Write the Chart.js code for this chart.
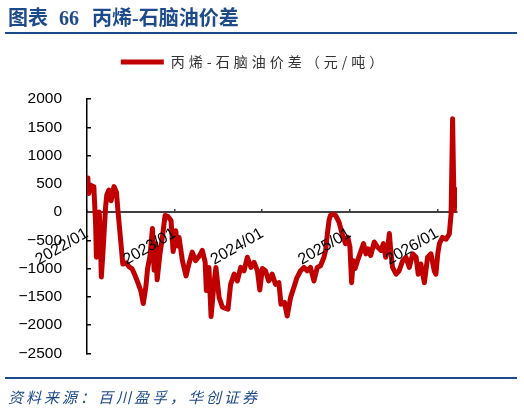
<!DOCTYPE html>
<html>
<head>
<meta charset="utf-8">
<script src="https://cdn.jsdelivr.net/npm/chart.js@4.4.1/dist/chart.umd.min.js"></script>
<style>
    html, body { margin: 0; padding: 0; background: #fff; }
    #page { position: relative; width: 524px; height: 412px; overflow: hidden; }
    #chart-box { position: absolute; left: 0; top: 0; width: 524px; height: 412px; }
    #title { position: absolute; left: 8px; top: 2px; font: bold 20px "Liberation Serif", "Noto Sans CJK SC", serif; color: #1d4a8a; white-space: nowrap; }
    #title .num { margin: 0 13px 0 11px; }
    .rule { position: absolute; left: 5px; width: 512px; height: 2px; background: #1d4a8a; }
    #source { position: absolute; left: 8px; top: 386px; font: italic 15px "Noto Sans CJK SC", sans-serif; color: #1d4a8a; letter-spacing: 3px; white-space: nowrap; }
</style>
</head>
<body>
<div id="page">
    <div id="chart-box"><canvas id="spread-chart" width="524" height="412"></canvas></div>
    <div id="title">图表<span class="num">66</span>丙烯-石脑油价差</div>
    <div class="rule" style="top: 32px;"></div>
    <div class="rule" style="top: 377px;"></div>
    <div id="source">资料来源：百川盈孚，华创证券</div>
</div>
<script>
'use strict';

const seriesName = '丙烯-石脑油价差（元/吨）';
const xTickLabels = ['2022/01', '2023/01', '2024/01', '2025/01', '2026/01'];
const yMin = -2500;
const yMax = 2000;
const yStep = 500;

const dates = [
    '2022-01-01', '2022-01-05', '2022-01-09', '2022-01-15', '2022-01-21', '2022-01-30',
    '2022-02-06', '2022-02-09', '2022-02-14', '2022-02-20', '2022-02-24', '2022-02-28',
    '2022-03-07', '2022-03-18', '2022-03-23', '2022-04-01', '2022-04-10', '2022-04-22',
    '2022-05-02', '2022-05-09', '2022-05-20', '2022-05-29', '2022-06-12', '2022-06-24',
    '2022-07-06', '2022-07-19', '2022-07-31', '2022-08-13', '2022-08-23', '2022-09-03',
    '2022-09-10', '2022-09-20', '2022-09-30', '2022-10-07', '2022-10-14', '2022-10-20',
    '2022-11-01', '2022-11-11', '2022-11-22', '2022-12-04', '2022-12-17', '2022-12-26',
    '2023-01-06', '2023-01-13', '2023-01-20', '2023-01-27', '2023-02-03', '2023-02-17',
    '2023-02-28', '2023-03-14', '2023-03-28', '2023-04-12', '2023-04-25', '2023-05-07',
    '2023-05-12', '2023-05-23', '2023-06-01', '2023-06-14', '2023-06-21', '2023-07-04',
    '2023-07-18', '2023-07-29', '2023-08-11', '2023-08-22', '2023-09-06', '2023-09-19',
    '2023-10-03', '2023-10-17', '2023-10-31', '2023-11-15', '2023-11-28', '2023-12-12',
    '2023-12-22', '2024-01-02', '2024-01-15', '2024-01-29', '2024-02-12', '2024-02-25',
    '2024-03-10', '2024-03-19', '2024-04-03', '2024-04-14', '2024-04-28', '2024-05-12',
    '2024-05-25', '2024-06-09', '2024-06-23', '2024-07-06', '2024-07-20', '2024-08-04',
    '2024-08-18', '2024-09-01', '2024-09-15', '2024-09-22', '2024-09-29', '2024-10-06',
    '2024-10-12', '2024-10-23', '2024-11-03', '2024-11-17', '2024-11-30', '2024-12-14',
    '2024-12-24', '2025-01-02', '2025-01-09', '2025-01-16', '2025-01-24', '2025-02-03',
    '2025-02-17', '2025-02-26', '2025-03-08', '2025-03-17', '2025-03-28', '2025-04-12',
    '2025-04-25', '2025-05-10', '2025-05-20', '2025-05-30', '2025-06-08', '2025-06-14',
    '2025-06-20', '2025-06-27', '2025-07-12', '2025-07-25', '2025-08-09', '2025-08-23',
    '2025-09-06', '2025-09-20', '2025-10-04', '2025-10-13', '2025-10-24', '2025-11-08',
    '2025-11-21', '2025-12-05', '2025-12-19', '2025-12-26', '2026-01-03', '2026-01-10',
    '2026-01-23', '2026-02-07', '2026-02-19', '2026-02-26', '2026-03-04', '2026-03-08',
    '2026-03-11', '2026-03-18', '2026-03-25', '2026-03-28',
];

const spread = [
    600, 420, 330, 480, 460, 450,
    -200, -800, -600, 0, -400, -1150,
    -700, 90, 300, 390, 200, 450,
    350, 0, -500, -920, -900, -970,
    -1000, -1120, -1250, -1400, -1620, -1320,
    -1000, -780, -290, -1030, -560, -1200,
    -740, -440, -60, -80, -150, -700,
    -330, -600, -450, -650, -860, -1130,
    -920, -710, -860, -780, -680, -890,
    -1390, -980, -1850, -1220, -980, -1510,
    -1680, -1700, -1720, -1280, -1100, -1220,
    -980, -1040, -800, -980, -890, -1040,
    -1380, -1000, -1040, -1220, -1100, -1280,
    -1250, -1630, -1600, -1840, -1510, -1330,
    -1160, -1040, -980, -1040, -980, -1220,
    -980, -950, -800, -680, -390, -150,
    -60, -40, -60, -180, -390, -560,
    -450, -620, -1250, -860, -1000, -860,
    -680, -560, -740, -650, -770, -530,
    -620, -680, -560, -800, -600, -380,
    -700, -980, -1100, -1040, -860, -800,
    -980, -740, -800, -1100, -920, -1250,
    -800, -740, -1040, -1100, -740, -560,
    -450, -480, -390, -30, 1650, 620,
    30, 400, 350, 400,
];

const legendGap = 20;
const legendShift = 23;
const legendSpacing = '4px';

// months since 2022/01, so that each year tick sits at a multiple of 12
function monthOffset(date) {
    const [y, m, d] = date.split('-').map(Number);
    const days = new Date(y, m, 0).getDate();
    return (y - 2022) * 12 + (m - 1) + (d - 1) / days;
}

// spaced legend text, a bit more room under the legend, nudged right
const legendTweak = {
    id: 'legendTweak',
    beforeUpdate(chart) {
        const legend = chart.legend;
        if (!legend || legend._tweaked) {
            return;
        }
        legend._tweaked = true;
        const fit = legend.fit;
        const draw = legend.draw;
        legend.fit = function () {
            this.ctx.save();
            this.ctx.letterSpacing = legendSpacing;
            fit.call(this);
            this.ctx.restore();
            this.height += legendGap;
        };
        legend.draw = function () {
            this.ctx.save();
            this.ctx.letterSpacing = legendSpacing;
            this.ctx.translate(legendShift, 0);
            draw.call(this);
            this.ctx.restore();
        };
    },
};

const axisFont = "'Liberation Sans', Arial, sans-serif";

let ctx = document.getElementById('spread-chart').getContext('2d');

window.spreadChart = new Chart(ctx, {
    type: 'line',
    data: {
        datasets: [
            {
                label: seriesName,
                data: dates.map((d, i) => ({ x: monthOffset(d), y: spread[i] })),
                borderColor: '#c00000',
                backgroundColor: '#c00000',
                borderWidth: 5,
                borderCapStyle: 'round',
                borderJoinStyle: 'round',
                pointRadius: 0,
                pointStyle: 'line',
                tension: 0,
                fill: false,
            }],
    },
    options: {
        responsive: false,
        animation: false,
        layout: {
            padding: { top: 45, left: 5, right: 67, bottom: 58.7 },
        },
        plugins: {
            legend: {
                position: 'top',
                labels: {
                    usePointStyle: true,
                    pointStyleWidth: 43,
                    padding: 10,
                    color: '#333',
                    font: { family: "'Noto Sans CJK SC'", size: 14 },
                },
            },
            tooltip: { enabled: false },
        },
        scales: {
            x: {
                type: 'linear',
                position: { y: 0 },
                min: 0,
                max: 50.7,
                border: { color: '#404040', width: 2 },
                grid: {
                    drawOnChartArea: false,
                    tickLength: -4,
                    color: '#404040',
                    lineWidth: 1.5,
                },
                ticks: {
                    stepSize: 12,
                    includeBounds: false,
                    autoSkip: false,
                    minRotation: 30,
                    maxRotation: 30,
                    padding: 16,
                    color: '#000',
                    z: 1,
                    font: { family: axisFont, size: 16 },
                    callback: v => (v % 12 === 0 ? xTickLabels[v / 12] : null),
                },
            },
            y: {
                min: yMin,
                max: yMax,
                border: { color: '#000', width: 1.5 },
                grid: {
                    drawOnChartArea: false,
                    tickLength: -4,
                    color: '#000',
                    lineWidth: 1.5,
                },
                ticks: {
                    stepSize: yStep,
                    padding: 29,
                    color: '#000',
                    font: { family: axisFont, size: 15.5 },
                    callback: v => String(v).replace('-', '\u2212'),
                },
                afterFit: scale => {
                    scale.width = 82;
                },
            },
        },
    },
    plugins: [legendTweak],
});
</script>
</body>
</html>
